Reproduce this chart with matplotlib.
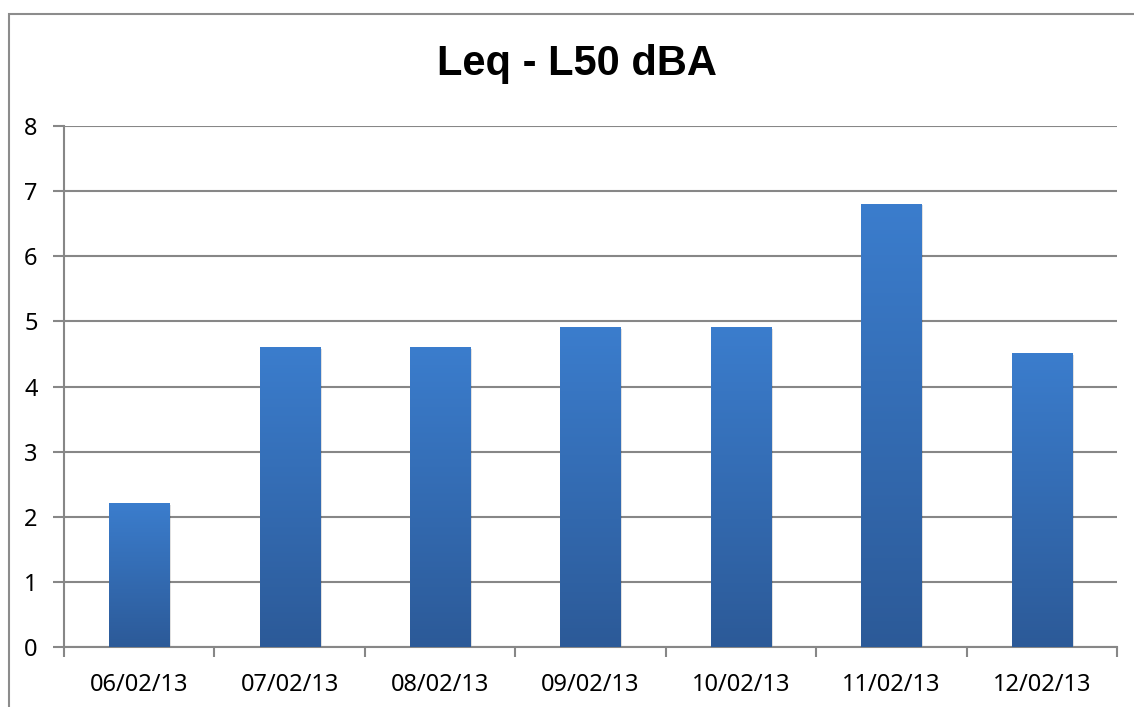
import matplotlib
matplotlib.use("Agg")
import matplotlib.pyplot as plt
import numpy as np
from matplotlib.patches import Rectangle

dates = ["06/02/13", "07/02/13", "08/02/13", "09/02/13", "10/02/13", "11/02/13", "12/02/13"]
values = [2.2, 4.6, 4.6, 4.9, 4.9, 6.8, 4.5]
yticks = [0, 1, 2, 3, 4, 5, 6, 7, 8]
title = "Leq - L50 dBA"

plt.rcParams["font.family"] = ["Noto Sans", "DejaVu Sans"]

W, H, DPI = 1134, 707, 100
fig = plt.figure(figsize=(W / DPI, H / DPI), dpi=DPI)
fig.patch.set_facecolor("white")

# outer chart frame (runs off the right and bottom edges)
fig.add_artist(Rectangle((8.5 / W, -0.05), 1.2, 1 - 13.5 / H + 0.05,
                         transform=fig.transFigure, fill=False,
                         edgecolor="#8c8c8c", linewidth=1.5))

left, right = 64 / W, 1117 / W
bottom, top = 1 - 647 / H, 1 - 126 / H
ax = fig.add_axes([left, bottom, right - left, top - bottom])

grid_c = "#878787"
x = np.arange(len(dates))
bar_w = 0.4

# vertical gradient: lighter blue at top, darker at base
top_c = np.array([0x3b, 0x7d, 0xcd]) / 255
bot_c = np.array([0x2c, 0x5a, 0x98]) / 255
grad = np.linspace(0, 1, 256)[:, None]
cols = bot_c[None, :] * (1 - grad) + top_c[None, :] * grad
img = cols[:, None, :]

for xi, v in zip(x, values):
    # soft shadow
    ax.add_patch(Rectangle((xi - bar_w / 2 + 0.012, 0), bar_w, v - 0.02,
                           facecolor="#000000", alpha=0.12, edgecolor="none", zorder=2))
    ax.imshow(img, extent=(xi - bar_w / 2, xi + bar_w / 2, 0, v),
              origin="lower", aspect="auto", zorder=3, interpolation="bilinear")

ax.set_xlim(-0.5, len(dates) - 0.5)
ax.set_ylim(0, 8)
ax.set_yticks(yticks)
ax.yaxis.grid(True, color=grid_c, linewidth=1.5, zorder=1)
ax.set_axisbelow(True)

ax.set_xticks(x)
ax.set_xticklabels(dates)
ax.set_xticks(np.arange(-0.5, len(dates)), minor=True)
ax.tick_params(axis="x", which="major", length=0, pad=19, labelsize=17)
ax.tick_params(axis="x", which="minor", length=7, width=1.5, color=grid_c, direction="out")
ax.tick_params(axis="y", length=8, width=1.5, color=grid_c, direction="out", pad=11, labelsize=17)

for s in ["top", "right"]:
    ax.spines[s].set_visible(False)
for s in ["left", "bottom"]:
    ax.spines[s].set_color(grid_c)
    ax.spines[s].set_linewidth(1.5)

fig.text(577 / W, 1 - 64 / H, title, ha="center", va="center",
         fontsize=30, fontweight="bold", family=["Liberation Sans", "DejaVu Sans"])

fig.savefig("out.png", dpi=DPI, facecolor="white")
